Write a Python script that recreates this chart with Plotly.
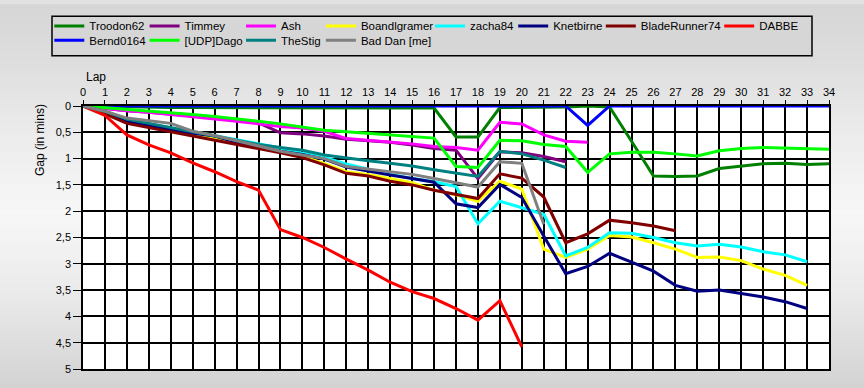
import plotly.graph_objects as go

# ---------------- data ----------------
laps = list(range(35))
y_tickvals = [0, 0.5, 1, 1.5, 2, 2.5, 3, 3.5, 4, 4.5, 5]
y_ticktext = ["0", "0,5", "1", "1,5", "2", "2,5", "3", "3,5", "4", "4,5", "5"]

troodon62 = [0, 0.01, 0.02, 0.02, 0.03, 0.03, 0.03, 0.03, 0.03, 0.03, 0.03, 0.03, 0.03, 0.03,
             0.04, 0.04, 0.04, 0.59, 0.59, 0.03, 0.03, 0.03, 0.02, 0.0, 0.02, 0.67, 1.33, 1.34,
             1.33, 1.19, 1.14, 1.1, 1.09, 1.11, 1.1]
timmey = [0, 0.05, 0.09, 0.12, 0.15, 0.19, 0.23, 0.28, 0.32, 0.51, 0.53, 0.57, 0.63, 0.66,
          0.69, 0.74, 0.81, 0.84, 1.38, 0.87, 0.89, 0.96, 1.06]
ash = [0, 0.05, 0.09, 0.12, 0.16, 0.2, 0.24, 0.29, 0.34, 0.39, 0.42, 0.48, 0.62, 0.65, 0.68,
       0.72, 0.77, 0.79, 0.84, 0.31, 0.34, 0.55, 0.67, 0.69]
boandlgramer = [0, 0.14, 0.3, 0.38, 0.46, 0.55, 0.62, 0.7, 0.79, 0.88, 0.96, 1.09, 1.25, 1.3,
                1.38, 1.46, 1.6, 1.69, 1.81, 1.43, 1.58, 2.72, 2.88, 2.72, 2.46, 2.49, 2.6, 2.72,
                2.88, 2.87, 2.94, 3.1, 3.22, 3.41]
zacha84 = [0, 0.12, 0.27, 0.34, 0.42, 0.49, 0.56, 0.64, 0.72, 0.8, 0.9, 0.98, 1.1, 1.2, 1.3,
           1.38, 1.44, 1.53, 2.24, 1.81, 1.94, 2.06, 2.85, 2.69, 2.41, 2.42, 2.5, 2.6, 2.66,
           2.63, 2.68, 2.77, 2.83, 2.96]
knetbirne = [0, 0.13, 0.3, 0.38, 0.45, 0.52, 0.57, 0.69, 0.77, 0.86, 0.92, 1.01, 1.16, 1.24,
             1.31, 1.38, 1.45, 1.86, 1.93, 1.49, 1.74, 2.47, 3.19, 3.05, 2.8, 2.97, 3.14, 3.41,
             3.52, 3.5, 3.56, 3.63, 3.72, 3.85]
bladerunner74 = [0, 0.15, 0.33, 0.41, 0.48, 0.57, 0.65, 0.72, 0.8, 0.89, 0.98, 1.12, 1.28, 1.33,
                 1.43, 1.5, 1.6, 1.68, 1.76, 1.29, 1.37, 1.73, 2.6, 2.43, 2.17, 2.22, 2.28, 2.37]
dabbe = [0, 0.18, 0.55, 0.74, 0.89, 1.08, 1.25, 1.44, 1.6, 2.35, 2.5, 2.69, 2.91, 3.12, 3.35,
         3.53, 3.66, 3.85, 4.07, 3.7, 4.58]
bernd0164 = [0, 0, 0, 0, 0, 0, 0, 0, 0, 0, 0, 0, 0, 0, 0, 0, 0, 0, 0, 0, 0, 0, 0, 0.37, 0, 0,
             0, 0, 0, 0, 0, 0, 0, 0, 0]
udp_dago = [0, 0.03, 0.06, 0.09, 0.12, 0.16, 0.2, 0.24, 0.29, 0.34, 0.4, 0.46, 0.49, 0.52, 0.55,
            0.58, 0.61, 1.15, 1.17, 0.65, 0.66, 0.73, 0.77, 1.26, 0.91, 0.88, 0.88, 0.91, 0.95,
            0.85, 0.81, 0.79, 0.8, 0.8, 0.82]
thestig = [0, 0.1, 0.25, 0.33, 0.42, 0.5, 0.57, 0.65, 0.73, 0.79, 0.84, 0.93, 0.99, 1.04, 1.09,
           1.14, 1.21, 1.28, 1.34, 0.86, 0.91, 1.03, 1.17]
bad_dan = [0, 0.1, 0.23, 0.28, 0.33, 0.48, 0.56, 0.66, 0.76, 0.86, 0.93, 1.0, 1.15, 1.2, 1.25,
           1.3, 1.38, 1.46, 1.54, 1.06, 1.09, 2.25]

series = [
    ("Troodon62", troodon62, "#008000"),
    ("Timmey", timmey, "#800080"),
    ("Ash", ash, "#ff00ff"),
    ("Boandlgramer", boandlgramer, "#ffff00"),
    ("zacha84", zacha84, "#00ffff"),
    ("Knetbirne", knetbirne, "#000080"),
    ("BladeRunner74", bladerunner74, "#800000"),
    ("DABBE", dabbe, "#ff0000"),
    ("Bernd0164", bernd0164, "#0000ff"),
    ("[UDP]Dago", udp_dago, "#00ff00"),
    ("TheStig", thestig, "#008080"),
    ("Bad Dan [me]", bad_dan, "#808080"),
]

# ---------------- layout geometry ----------------
W, H = 864, 388
ML, MR, MT, MB = 83, 35, 103, 19
PW, PH = W - ML - MR, H - MT - MB
FONT = "Liberation Sans"


def px_x(px):
    return (px - ML) / PW


def px_y(py):
    return (H - MB - py) / PH


# legend column text positions (px) and row centres (px)
col_text_x = [89.3, 184.6, 281, 360.9, 470, 553.2, 640.8, 759.2]
row_y = [22, 36.5]

fig = go.Figure()
legends = {}
for i, (name, vals, col) in enumerate(series):
    key = "legend" if i == 0 else f"legend{i + 1}"
    c = i % 8
    r = i // 8
    legends[key] = dict(
        x=px_x(col_text_x[c] - 40), y=px_y(row_y[r]), xanchor="left", yanchor="middle",
        bgcolor="rgba(0,0,0,0)", borderwidth=0,
        font=dict(family=FONT, size=11.5, color="black"),
    )
    fig.add_trace(go.Scatter(
        x=laps[:len(vals)], y=vals, name=name, mode="lines",
        line=dict(color=col, width=3), legend=key,
    ))

# background gradient (vertical)
stops = [(0, 214), (60, 222), (110, 232), (210, 247), (300, 233), (388, 210)]


def grey_at(py):
    for (y0, g0), (y1, g1) in zip(stops[:-1], stops[1:]):
        if y0 <= py <= y1:
            return g0 + (g1 - g0) * (py - y0) / (y1 - y0)
    return stops[-1][1]


shapes = []
band = 4
for yb in range(0, H, band):
    g = int(round(grey_at(yb + band / 2)))
    shapes.append(dict(
        type="rect", xref="paper", yref="paper", layer="below",
        x0=px_x(0), x1=px_x(W), y0=px_y(yb + band + 0.5), y1=px_y(yb),
        fillcolor=f"rgb({g},{g},{g})", line=dict(width=0),
    ))
# white plot area
shapes.append(dict(
    type="rect", xref="x", yref="y", layer="below",
    x0=laps[0], x1=laps[-1], y0=y_tickvals[0], y1=y_tickvals[-1],
    fillcolor="white", line=dict(width=0),
))
# legend box
shapes.append(dict(
    type="rect", xref="paper", yref="paper", layer="below",
    x0=px_x(52), x1=px_x(812), y0=px_y(52.3), y1=px_y(12.3),
    fillcolor="rgb(214,214,214)", line=dict(color="black", width=1.5),
))

annotations = [
    dict(text="Lap", xref="paper", yref="paper", x=px_x(84), y=px_y(74),
         xanchor="left", yanchor="middle", showarrow=False,
         font=dict(family=FONT, size=12, color="black")),
    dict(text="Gap (in mins)", xref="paper", yref="paper", x=px_x(40), y=px_y(137.5),
         xanchor="center", yanchor="middle", textangle=-90, showarrow=False,
         font=dict(family=FONT, size=12, color="black")),
]

fig.update_layout(
    width=W, height=H,
    margin=dict(l=ML, r=MR, t=MT, b=MB, pad=0),
    paper_bgcolor="rgb(225,225,225)",
    plot_bgcolor="white",
    font=dict(family=FONT, size=11, color="black"),
    showlegend=True,
    shapes=shapes,
    annotations=annotations,
    **legends,
)
fig.update_xaxes(
    range=[laps[0], laps[-1]], side="top", tickmode="array", tickvals=laps,
    showgrid=True, gridcolor="black", gridwidth=1.6, zeroline=False,
    showline=True, linecolor="black", linewidth=1.6, mirror=True,
    ticks="outside", ticklen=4, tickcolor="black", tickwidth=1,
    tickfont=dict(family=FONT, size=11, color="black"),
)
fig.update_yaxes(
    range=[y_tickvals[-1], y_tickvals[0]], tickmode="array", tickvals=y_tickvals,
    ticktext=y_ticktext,
    showgrid=True, gridcolor="black", gridwidth=1.6, zeroline=False,
    showline=True, linecolor="black", linewidth=1.6, mirror=True,
    ticks="outside", ticklen=8, tickcolor="black", tickwidth=1,
    tickfont=dict(family=FONT, size=11, color="black"),
)

fig.write_html(
    "out.html",
    config={"displayModeBar": False},
    post_script="document.body.style.margin='0';document.body.style.overflow='hidden';",
)
